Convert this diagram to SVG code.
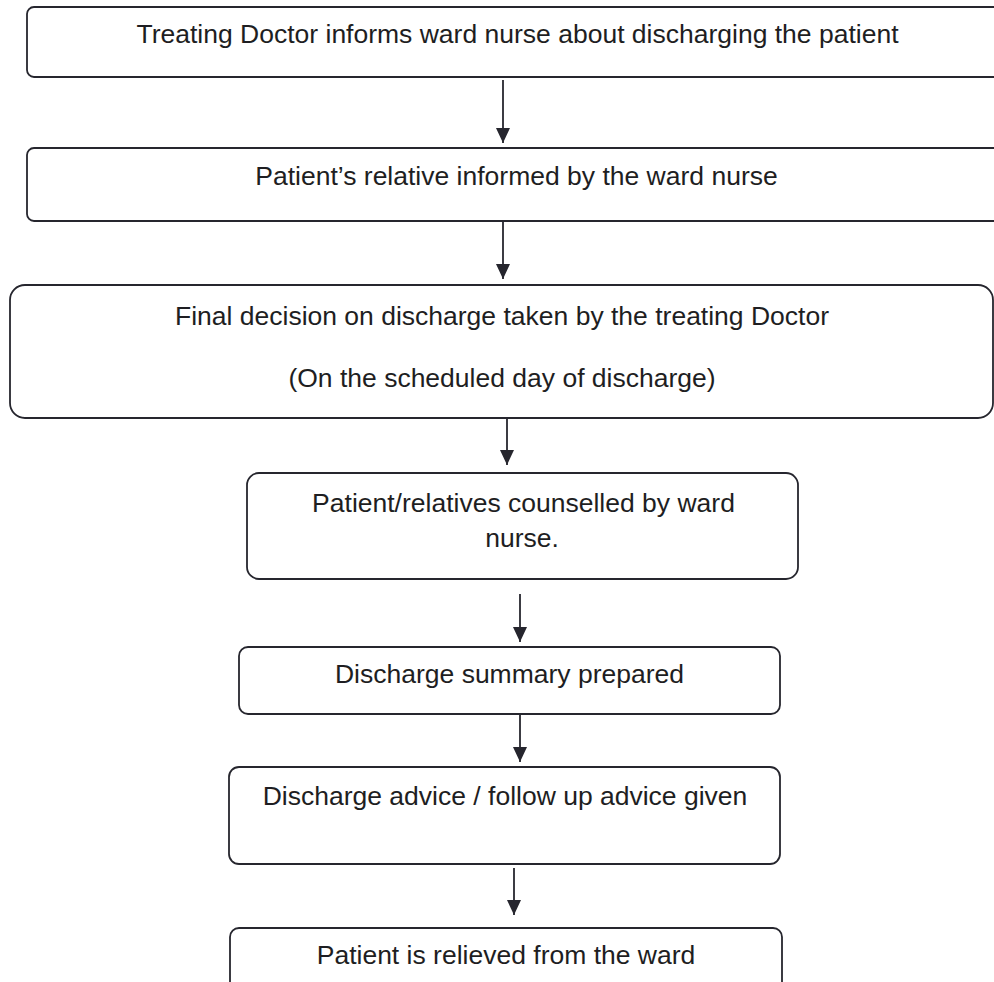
<svg xmlns="http://www.w3.org/2000/svg" width="994" height="982" viewBox="0 0 994 982">
<style>
.box{fill:#ffffff;stroke:#26262e;stroke-width:1.8}
.t{font-family:"Liberation Sans",Arial,sans-serif;font-size:26.5px;fill:#1e1e22;text-anchor:middle}
.c{stroke:#26262e;stroke-width:1.8;fill:none;marker-end:url(#ah)}
</style>
<defs>
<marker id="ah" markerUnits="userSpaceOnUse" markerWidth="15" markerHeight="14" viewBox="0 0 15 14" refX="15" refY="7" orient="auto">
<path d="M0,0 L15,7 L0,14 Z" fill="#26262e"/>
</marker>
</defs>
<rect width="994" height="982" fill="#ffffff"/>
<g id="connectors">
<line class="c" x1="503" y1="80" x2="503" y2="143"/>
<line class="c" x1="503" y1="220" x2="503" y2="279"/>
<line class="c" x1="507" y1="418" x2="507" y2="465"/>
<line class="c" x1="520" y1="594" x2="520" y2="642"/>
<line class="c" x1="520" y1="714" x2="520" y2="762"/>
<line class="c" x1="514" y1="868" x2="514" y2="915"/>
</g>
<g id="n1">
<rect class="box" x="27" y="7" width="980" height="70" rx="7"/>
<text class="t" x="517.5" y="43">Treating Doctor informs ward nurse about discharging the patient</text>
</g>
<g id="n2">
<rect class="box" x="27" y="148" width="980" height="73" rx="7"/>
<text class="t" x="516.5" y="185">Patient’s relative informed by the ward nurse</text>
</g>
<g id="n3">
<rect class="box" x="10" y="285" width="983" height="133" rx="15"/>
<text class="t" x="502" y="325">Final decision on discharge taken by the treating Doctor</text>
<text class="t" x="502" y="387">(On the scheduled day of discharge)</text>
</g>
<g id="n4">
<rect class="box" x="247" y="473" width="551" height="106" rx="12"/>
<text class="t" x="523.5" y="512">Patient/relatives counselled by ward</text>
<text class="t" x="522" y="547">nurse.</text>
</g>
<g id="n5">
<rect class="box" x="239" y="647" width="541" height="67" rx="9"/>
<text class="t" x="509.5" y="683">Discharge summary prepared</text>
</g>
<g id="n6">
<rect class="box" x="229" y="767" width="551" height="97" rx="10"/>
<text class="t" x="505" y="805">Discharge advice / follow up advice given</text>
</g>
<g id="n7">
<rect class="box" x="230" y="928" width="552" height="70" rx="9"/>
<text class="t" x="506" y="964">Patient is relieved from the ward</text>
</g>
</svg>
